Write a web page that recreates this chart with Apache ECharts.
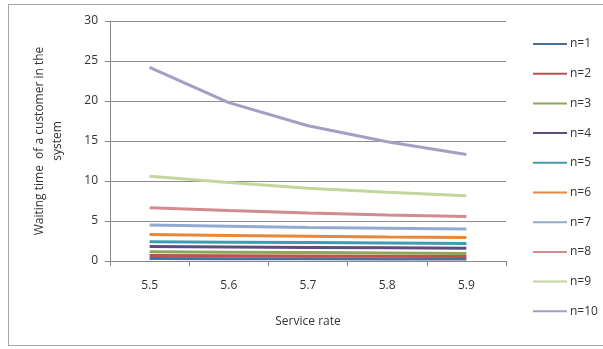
<!DOCTYPE html>
<html>
<head>
<meta charset="utf-8">
<script src="https://cdn.jsdelivr.net/npm/echarts@6/dist/echarts.min.js"></script>
<style>
  html, body { margin: 0; padding: 0; background: #fff; }
  #frame { position: absolute; left: 8px; top: 4px; width: 600px; height: 342px; border: 1px solid #a6a6a6; box-sizing: border-box; }
  #chart { position: absolute; left: 0; top: 0; width: 603px; height: 349px; }
</style>
</head>
<body>
<div id="frame"></div>
<div id="chart"></div>
<script>
const rates = ['5.5', '5.6', '5.7', '5.8', '5.9']
const n1  = [0.30, 0.28, 0.27, 0.25, 0.24]
const n2  = [0.70, 0.66, 0.62, 0.59, 0.56]
const n3  = [1.15, 1.10, 1.05, 1.00, 0.95]
const n4  = [1.80, 1.75, 1.70, 1.65, 1.60]
const n5  = [2.40, 2.35, 2.30, 2.25, 2.20]
const n6  = [3.30, 3.20, 3.10, 3.00, 2.95]
const n7  = [4.50, 4.35, 4.20, 4.10, 4.00]
const n8  = [6.65, 6.30, 6.00, 5.75, 5.55]
const n9  = [10.6, 9.8, 9.1, 8.6, 8.15]
const n10 = [24.2, 19.8, 16.9, 14.9, 13.3]

const seriesData = [n1, n2, n3, n4, n5, n6, n7, n8, n9, n10]
const names = ['n=1', 'n=2', 'n=3', 'n=4', 'n=5', 'n=6', 'n=7', 'n=8', 'n=9', 'n=10']
const colors = ['#4a6f9e', '#c0504d', '#8ea65a', '#5f4b7e', '#3f9bb2', '#e8883e',
                '#91abd0', '#d28b8e', '#c3d69b', '#a79cc4']

const chart = echarts.init(document.getElementById('chart'))
const font = '"Open Sans", "DejaVu Sans", sans-serif'

chart.setOption({
  backgroundColor: 'transparent',
  animation: false,
  color: colors,
  grid: { left: 110, right: 97, top: 21, bottom: 88 },
  legend: {
    orient: 'vertical',
    left: 528, top: 33,
    itemWidth: 34, itemHeight: 2, itemGap: 17.7,
    icon: 'rect',
    textStyle: { fontFamily: font, fontSize: 12, color: '#333', padding: [0, 0, 0, -2] },
    data: names
  },
  xAxis: {
    type: 'category', data: rates, boundaryGap: true,
    name: 'Service rate', nameLocation: 'middle', nameGap: 55,
    nameTextStyle: { fontFamily: font, fontSize: 12, color: '#333' },
    axisLine: { lineStyle: { color: '#868686', width: 1 } },
    axisTick: { show: true, length: 5, alignWithLabel: false, lineStyle: { color: '#868686' } },
    axisLabel: { fontFamily: font, fontSize: 12, color: '#333', margin: 19 },
    splitLine: { show: false }
  },
  yAxis: {
    type: 'value', min: 0, max: 30, interval: 5,
    name: 'Waiting time  of a customer in the\nsystem', nameLocation: 'middle', nameGap: 43,
    nameRotate: 90,
    nameTextStyle: { fontFamily: font, fontSize: 12, color: '#333', lineHeight: 18, align: 'center' },
    axisLine: { show: true, lineStyle: { color: '#868686', width: 1 } },
    axisTick: { show: true, length: 5, lineStyle: { color: '#868686' } },
    axisLabel: { fontFamily: font, fontSize: 12, color: '#333', margin: 12 },
    splitLine: { lineStyle: { color: '#8c8c8c', width: 1 } }
  },
  series: seriesData.map((d, i) => ({
    type: 'line', name: names[i], data: d,
    symbol: 'none', smooth: false,
    lineStyle: { width: 3, color: colors[i] },
    itemStyle: { color: colors[i] }
  }))
})
</script>
</body>
</html>
